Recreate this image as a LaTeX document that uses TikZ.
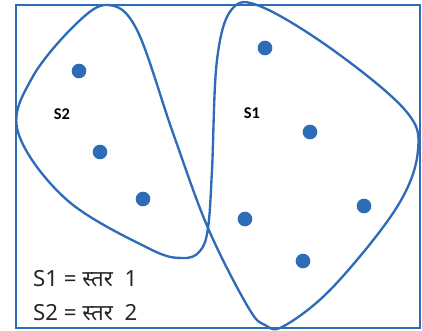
\documentclass[tikz,border=0pt]{standalone}
\usepackage{fontspec}
\newfontfamily\hindifont[Script=Devanagari]{Noto Sans}
\newfontfamily\labelfont{Carlito}
\definecolor{clblue}{RGB}{46,108,184}
\usetikzlibrary{positioning}

\begin{document}
\begin{tikzpicture}[x=0.03cm, y=-0.03cm,
    cluster/.style={draw=clblue, line width=2pt, line join=round},
    pt/.style={circle, fill=clblue, inner sep=0pt, minimum size=12.5pt},
    tag/.style={font=\labelfont\bfseries\fontsize{14}{16}\selectfont, text=black},
    legend/.style={anchor=base west, inner sep=0pt, font=\hindifont\fontsize{19}{22}\selectfont, text=black!85}
  ]
    \useasboundingbox (0,0) rectangle (422,330);
    % Frame
    \draw[draw=clblue, line width=1.8pt] (16,5) rectangle (420,328);
    % Clusters S2 and S1, one line crossing itself
    \draw[cluster] plot[smooth cycle, tension=0.6] coordinates {
      (108,5) (137,30) (173,133) (208,228) (248,307) (265,325) (284,326)
      (333,287) (397,207) (418,150) (405,110) (333,50) (262,7)
      (232,9) (217,60) (212,170) (208,228) (200,251) (183,258)
      (150,249) (67,200) (18,132) (32,78) (76,24)};
    % Points of S2
    \node[pt] (p1) at (79,71) {};
    \node[pt] (p2) at (100,152) {};
    \node[pt] (p3) at (143,199) {};
    % Points of S1
    \node[pt] (q1) at (265,48) {};
    \node[pt] (q2) at (310,132) {};
    \node[pt] (q3) at (364,206) {};
    \node[pt] (q4) at (245,219) {};
    \node[pt] (q5) at (303,261) {};
    % Labels
    \node[tag] (s2) at (62,114) {S2};
    \node[tag] (s1) at (252,113) {S1};
    \node[legend] (key1) at (33,286) {S1 = स्तर\ \ 1};
    \node[legend] (key2) at (33,320) {S2 = स्तर\ \ 2};
  \end{tikzpicture}
\end{document}
